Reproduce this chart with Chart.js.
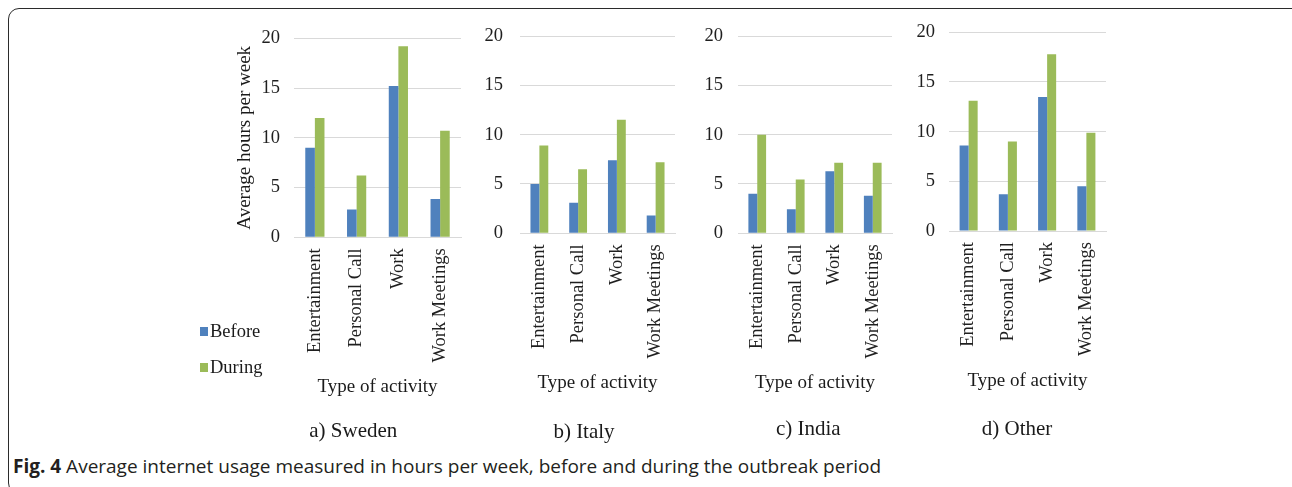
<!DOCTYPE html>
<html>
<head>
<meta charset="utf-8">
<script src="https://cdn.jsdelivr.net/npm/chart.js@4.4.0/dist/chart.umd.min.js"></script>
<style>
html,body{margin:0;padding:0;background:#fff;width:1292px;height:487px;overflow:hidden;position:relative;}
#frame{position:absolute;left:8px;top:8px;width:1300px;height:486px;border:1.5px solid #2b2b2b;border-radius:11px;box-sizing:border-box;}
canvas{position:absolute;}
.leg{position:absolute;font-family:"Liberation Serif","Times New Roman",serif;font-size:18.5px;color:#1a1a1a;line-height:20px;}
.sw{position:absolute;width:8px;height:9px;}
#caption{position:absolute;left:13px;top:453px;font-family:"Open Sans",sans-serif;font-size:19px;color:#231f20;white-space:nowrap;}
#caption b{font-weight:700;}
</style>
</head>
<body>
<div id="frame"></div>
<canvas id="c0"></canvas>
<canvas id="c1"></canvas>
<canvas id="c2"></canvas>
<canvas id="c3"></canvas>
<div class="sw" style="left:200px;top:327px;background:#4f81bd"></div>
<div class="leg" style="left:210px;top:321px">Before</div>
<div class="sw" style="left:200px;top:363px;background:#9bbb59"></div>
<div class="leg" style="left:210px;top:357px">During</div>
<div id="caption"><b>Fig. 4</b> Average internet usage measured in hours per week, before and during the outbreak period</div>
<script>
// ---- data ----
const categories = ['Entertainment', 'Personal Call', 'Work', 'Work Meetings'];
const seriesNames = ['Before', 'During'];
const yTickValues = [0, 5, 10, 15, 20];
const panelTitles = ['a) Sweden', 'b) Italy', 'c) India', 'd) Other'];
const swedenBefore = [9.0, 2.8, 15.2, 3.85];
const swedenDuring = [12.0, 6.2, 19.2, 10.7];
const italyBefore = [5.0, 3.1, 7.4, 1.8];
const italyDuring = [8.9, 6.5, 11.5, 7.2];
const indiaBefore = [4.0, 2.45, 6.3, 3.8];
const indiaDuring = [10.0, 5.45, 7.15, 7.15];
const otherBefore = [8.6, 3.7, 13.5, 4.5];
const otherDuring = [13.1, 9.0, 17.8, 9.9];
const xTitle = 'Type of activity';
const yTitle = 'Average hours per week';

// ---- layout ----
const colors = ['#4f81bd', '#9bbb59'];
const H = 165;          // x-scale height (labels + axis title)
const titleFont = 21, titleLH = titleFont * 1.2;
const tickFont = 18.5;
const fam = '"Liberation Serif", "Times New Roman", serif';
const panels = [
  {title: panelTitles[0], before: swedenBefore, during: swedenDuring, plotL: 294, plotR: 461, plotT: 38.3, plotB: 237.3, tcx: 353.3, tcy: 431.7, tickPad: 14, yTitle: true},
  {title: panelTitles[1], before: italyBefore, during: italyDuring, plotL: 520, plotR: 675, plotT: 36, plotB: 233.3, tcx: 584, tcy: 432, tickPad: 17, yTitle: false},
  {title: panelTitles[2], before: indiaBefore, during: indiaDuring, plotL: 738, plotR: 892, plotT: 36, plotB: 233.3, tcx: 808.3, tcy: 429.3, tickPad: 15, yTitle: false},
  {title: panelTitles[3], before: otherBefore, during: otherDuring, plotL: 949, plotR: 1106, plotT: 32.3, plotB: 231, tcx: 1017, tcy: 429.3, tickPad: 14, yTitle: false}
];

Chart.defaults.font.family = fam;
Chart.defaults.color = '#1f1f1f';

const mctx = document.createElement('canvas').getContext('2d');
mctx.font = tickFont + 'px ' + fam;
const widest = Math.max(...yTickValues.map(v => mctx.measureText(String(v)).width));

panels.forEach((p, i) => {
  const titleLeft = 2 * p.tcx - p.plotR;
  const L = Math.floor(titleLeft - 40);
  const pL = titleLeft - L;
  const W = p.plotL - titleLeft;
  const cw = Math.ceil(p.plotR + 22 - L);
  const pR = cw - (p.plotR - L);
  const T = Math.floor(p.plotT - 30);
  const pT = p.plotT - T;
  const tPadTop = p.tcy - p.plotB - H - titleLH / 2;
  const tPadBot = 2;
  const titleBox = titleLH + tPadTop + tPadBot;
  const ch = Math.ceil(p.plotB - T + H + titleBox + 5);
  const pB = ch - (p.plotB - T) - H - titleBox;

  const cv = document.getElementById('c' + i);
  cv.width = cw; cv.height = ch;
  cv.style.left = L + 'px'; cv.style.top = T + 'px';
  cv.style.width = cw + 'px'; cv.style.height = ch + 'px';

  new Chart(cv, {
    type: 'bar',
    data: {
      labels: categories,
      datasets: [
        {label: seriesNames[0], data: p.before, backgroundColor: colors[0], borderWidth: 0, categoryPercentage: 0.46, barPercentage: 1.0},
        {label: seriesNames[1], data: p.during, backgroundColor: colors[1], borderWidth: 0, categoryPercentage: 0.46, barPercentage: 1.0}
      ]
    },
    options: {
      responsive: false,
      animation: false,
      devicePixelRatio: 1,
      layout: {padding: {left: pL, right: pR, top: pT, bottom: pB}},
      plugins: {
        legend: {display: false},
        tooltip: {enabled: false},
        title: {
          display: true, position: 'bottom', text: p.title,
          color: '#1a1a1a',
          font: {size: titleFont, weight: 'normal'},
          padding: {top: tPadTop, bottom: tPadBot}
        }
      },
      scales: {
        x: {
          grid: {display: false, drawTicks: false},
          border: {display: true, color: '#d9d9d9', width: 1},
          ticks: {minRotation: 90, maxRotation: 90, autoSkip: false, padding: 11, color: '#1f1f1f', font: {size: tickFont}},
          title: {display: true, text: xTitle, color: '#1a1a1a', font: {size: 19}, padding: {top: 4, bottom: 4}},
          afterFit: s => { s.height = H; }
        },
        y: {
          min: 0, max: 20,
          afterBuildTicks: s => { s.ticks = yTickValues.map(v => ({value: v})); },
          grid: {color: '#d9d9d9', lineWidth: 1, drawTicks: false},
          border: {display: false},
          ticks: {mirror: true, crossAlign: 'far', padding: -(p.tickPad + widest), color: '#1f1f1f', font: {size: tickFont}},
          title: {display: p.yTitle, text: yTitle, color: '#1a1a1a', font: {size: 19}, padding: {top: -12, bottom: 0}},
          afterFit: s => { s.width = W; }
        }
      }
    }
  });
});
</script>
</body>
</html>
